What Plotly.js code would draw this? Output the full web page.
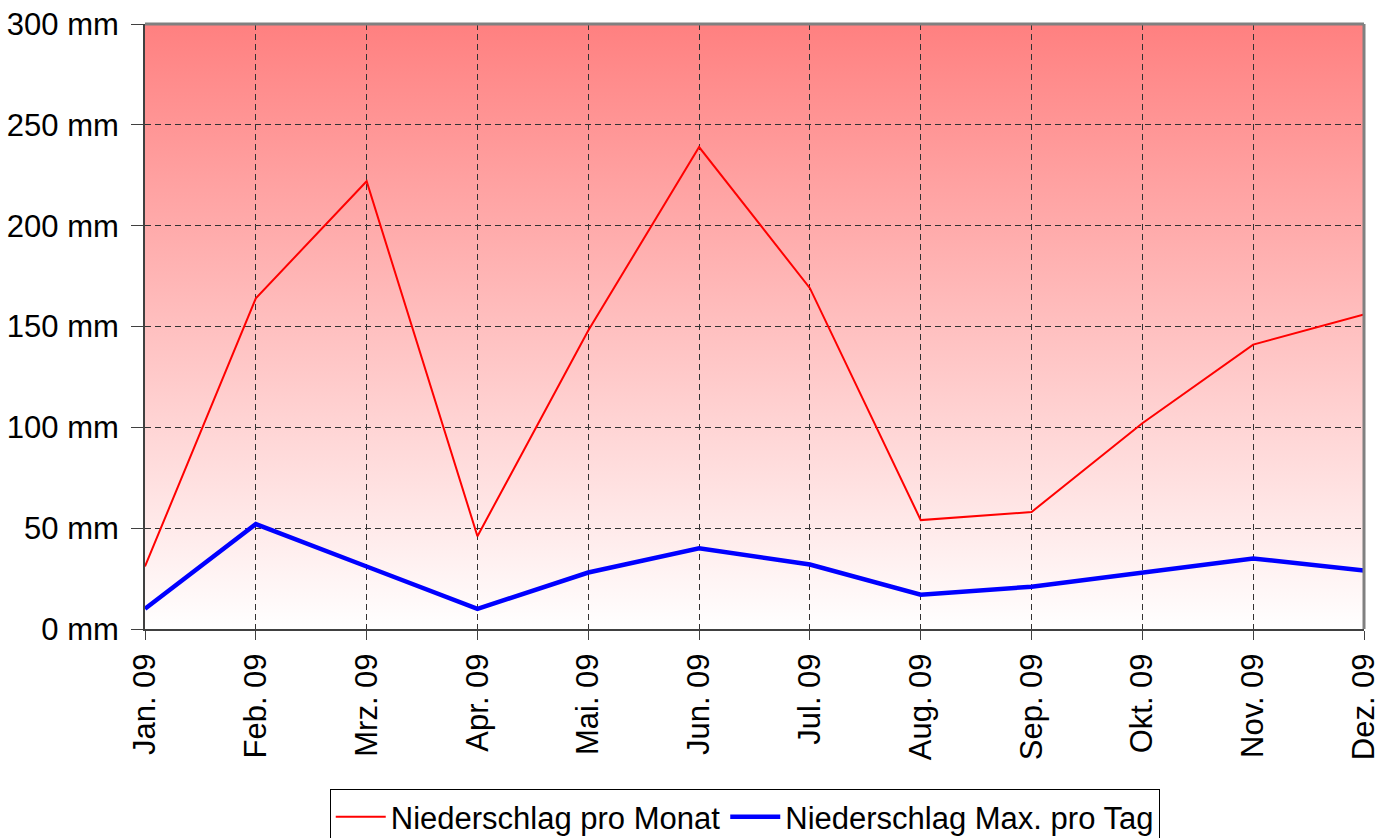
<!DOCTYPE html>
<html>
<head>
<meta charset="utf-8">
<script src="https://cdn.plot.ly/plotly-3.0.1.min.js"></script>
<style>html,body{margin:0;padding:0;background:#fff;}#chart{width:1394px;height:838px;}</style>
</head>
<body>
<div id="chart"></div>
<script>
const months = ["Jan. 09","Feb. 09","Mrz. 09","Apr. 09","Mai. 09","Jun. 09","Jul. 09","Aug. 09","Sep. 09","Okt. 09","Nov. 09","Dez. 09"];
const monthIndex = [0,1,2,3,4,5,6,7,8,9,10,11];
const niederschlagMonat = [31, 164, 222, 46, 148, 239, 169, 54, 58, 102, 141, 156];
const niederschlagMaxTag = [10, 52, 31, 10, 28, 40, 32, 17, 21, 28, 35, 29];
const yTicks = [0, 50, 100, 150, 200, 250, 300];
const yTickLabels = ["0 mm", "50 mm", "100 mm", "150 mm", "200 mm", "250 mm", "300 mm"];

const grad = 'data:image/svg+xml;utf8,' + encodeURIComponent(
 '<svg xmlns="http://www.w3.org/2000/svg" width="100" height="100" preserveAspectRatio="none">' +
 '<defs><linearGradient id="g" x1="0" y1="0" x2="0" y2="1">' +
 '<stop offset="0" stop-color="#FF8080"/><stop offset="1" stop-color="#FFFFFF"/>' +
 '</linearGradient></defs><rect width="100" height="100" fill="url(#g)"/></svg>');

const traces = [
 {x: monthIndex, y: niederschlagMonat, type: 'scatter', mode: 'lines', name: 'Niederschlag pro Monat',
  line: {color: '#FF0000', width: 2}},
 {x: monthIndex, y: niederschlagMaxTag, type: 'scatter', mode: 'lines', name: 'Niederschlag Max. pro Tag',
  line: {color: '#0000FF', width: 4.5}}
];

const layout = {
 width: 1394, height: 838,
 margin: {l: 145, r: 30, t: 24, b: 209, autoexpand: false},
 paper_bgcolor: '#FFFFFF',
 plot_bgcolor: 'rgba(0,0,0,0)',
 font: {family: 'Liberation Sans, Arial, sans-serif', size: 31, color: '#000'},
 showlegend: true,
 legend: {orientation: 'h', xref: 'paper', x: 0.492, xanchor: 'center',
   yref: 'container', y: 0.0585, yanchor: 'top',
   bordercolor: '#000', borderwidth: 1, bgcolor: '#FFFFFF',
   font: {size: 31, color: '#000'}, itemwidth: 50, tracegroupgap: 0},
 xaxis: {
   range: [0, 11], tickvals: monthIndex, ticktext: months, tickangle: -90,
   showgrid: true, gridcolor: '#333', griddash: '6px,4px', gridwidth: 1,
   zeroline: false, showline: true, linecolor: '#404040', linewidth: 2,
   ticks: 'outside', ticklen: 9, tickcolor: '#404040', tickwidth: 1, ticklabelstandoff: 1,
   tickfont: {size: 31, color: '#000'}, fixedrange: true, automargin: false
 },
 yaxis: {
   range: [0, 300], tickvals: yTicks, ticktext: yTickLabels,
   showgrid: true, gridcolor: '#333', griddash: '6px,4px', gridwidth: 1,
   zeroline: false, showline: true, linecolor: '#404040', linewidth: 2,
   ticks: 'outside', ticklen: 12, tickcolor: '#404040', tickwidth: 1, ticklabelstandoff: 6,
   tickfont: {size: 31, color: '#000'}, fixedrange: true, automargin: false
 },
 images: [{source: grad, xref: 'paper', yref: 'paper', x: 0, y: 1, sizex: 1, sizey: 1,
   xanchor: 'left', yanchor: 'top', sizing: 'stretch', layer: 'below'}],
 shapes: [
   {type: 'line', xref: 'paper', yref: 'paper', x0: 0, x1: 1, y0: 1, y1: 1, line: {color: '#808080', width: 3}},
   {type: 'line', xref: 'paper', yref: 'paper', x0: 1, x1: 1, y0: 0, y1: 1, line: {color: '#808080', width: 3}}
 ]
};

Plotly.newPlot('chart', traces, layout, {displayModeBar: false, staticPlot: true});
</script>
</body>
</html>
